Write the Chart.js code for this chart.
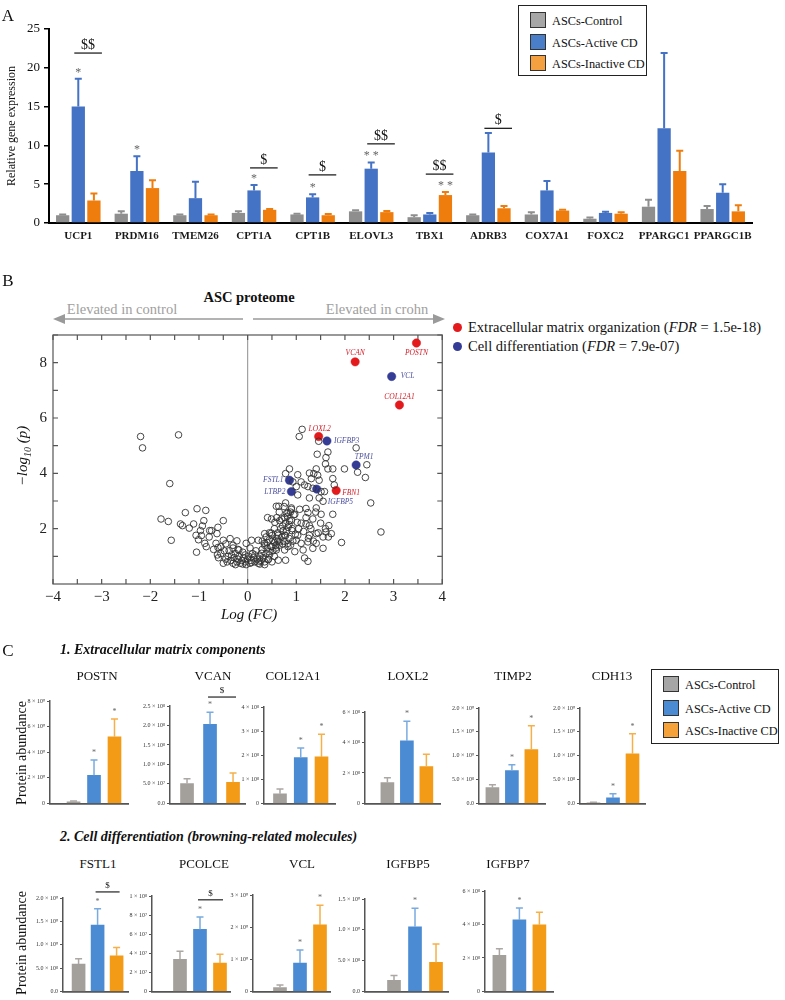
<!DOCTYPE html>
<html>
<head>
<meta charset="utf-8">
<script src="https://cdn.jsdelivr.net/npm/chart.js@4.4.1/dist/chart.umd.min.js"></script>
<style>
  body { margin: 0; background: #fff; }
  #page { position: relative; width: 785px; height: 1000px; overflow: hidden;
          font-family: 'Liberation Serif', serif; color: #111; }
  #page canvas { position: absolute; }
  .t { position: absolute; white-space: nowrap; line-height: 1; }
  .box { position: absolute; border: 1.5px solid #222; background: #fff; }
  .item { position: absolute; left: 11px; font-size: 12.3px; line-height: 15px; white-space: nowrap; }
  .sw { display: inline-block; width: 14px; height: 14px; border: 1.3px solid #333;
        vertical-align: -3px; margin-right: 6px; }
  .dot { display: inline-block; width: 9px; height: 9px; border-radius: 50%;
         vertical-align: 0px; margin-right: 6px; }
</style>
</head>
<body>
<div id="page">
  <svg style="position:absolute;left:0;top:0" width="785" height="1000">
    <g stroke="#9a9a9a" stroke-width="1.5" fill="#9a9a9a">
      <line x1="62" y1="319" x2="243" y2="319"/>
      <polygon points="53,319 65,314 65,324" stroke="none"/>
      <line x1="253" y1="319" x2="434" y2="319"/>
      <polygon points="445,319 433,314 433,324" stroke="none"/>
    </g>
  </svg>

  <div class="box" style="left:518px;top:5px;width:127px;height:69px">
    <div class="item" style="top:6px"><span class="sw" style="background:#a6a6a6"></span>ASCs-Control</div>
    <div class="item" style="top:28px"><span class="sw" style="background:#4a7ec9"></span>ASCs-Active CD</div>
    <div class="item" style="top:49px"><span class="sw" style="background:#f4a040"></span>ASCs-Inactive CD</div>
  </div>

  <div class="box" style="left:651px;top:669px;width:126px;height:73px">
    <div class="item" style="top:6px"><span class="sw" style="background:#a6a6a6"></span>ASCs-Control</div>
    <div class="item" style="top:30px"><span class="sw" style="background:#4a8bd3"></span>ASCs-Active CD</div>
    <div class="item" style="top:52px"><span class="sw" style="background:#f5a23a"></span>ASCs-Inactive CD</div>
  </div>

  <div class="t" style="left:453px;top:320px;font-size:14.5px"><span class="dot" style="background:#e3191c"></span>Extracellular matrix organization (<i>FDR</i> = 1.5e-18)</div>
  <div class="t" style="left:453px;top:339px;font-size:14.5px"><span class="dot" style="background:#343c96"></span>Cell differentiation (<i>FDR</i> = 7.9e-07)</div>
</div>

<script>
// ---------- Panel A: qPCR ----------
const genesA = ['UCP1', 'PRDM16', 'TMEM26', 'CPT1A', 'CPT1B', 'ELOVL3', 'TBX1', 'ADRB3', 'COX7A1', 'FOXC2', 'PPARGC1', 'PPARGC1B'];
const controlA = [1.0, 1.2, 1.0, 1.3, 1.1, 1.5, 0.75, 1.0, 1.1, 0.55, 2.1, 1.8];
const controlErrA = [0.1, 0.3, 0.1, 0.2, 0.1, 0.15, 0.25, 0.1, 0.3, 0.15, 0.9, 0.4];
const activeA = [15.0, 6.7, 3.2, 4.2, 3.3, 7.0, 1.1, 9.1, 4.2, 1.3, 12.2, 3.9];
const activeErrA = [3.6, 1.9, 2.1, 0.7, 0.4, 0.8, 0.2, 2.5, 1.2, 0.15, 9.7, 1.1];
const inactiveA = [2.9, 4.5, 1.0, 1.7, 1.0, 1.4, 3.6, 1.9, 1.6, 1.2, 6.7, 1.5];
const inactiveErrA = [0.9, 1.0, 0.1, 0.1, 0.15, 0.15, 0.4, 0.3, 0.1, 0.2, 2.6, 0.8];
const starsA = [[1, 0, '*'], [1, 1, '*'], [1, 3, '*'], [1, 4, '*'], [1, 5, '* *'], [2, 6, '* *']];
const dollarsA = [[0, 21.9, '$$'], [3, 7.1, '$'], [4, 6.2, '$'], [5, 10.2, '$$'], [6, 6.3, '$$'], [7, 12.2, '$']];

// ---------- Panel B: volcano ----------
const ecmGenes = ['POSTN', 'VCAN', 'COL12A1', 'LOXL2', 'FBN1'];
const ecmFC = [3.47, 2.21, 3.12, 1.46, 1.82];
const ecmP = [8.71, 8.03, 6.47, 5.33, 3.38];
const diffGenes = ['VCL', 'IGFBP3', 'TPM1', 'FSTL1', 'LTBP2', 'IGFBP5'];
const diffFC = [2.96, 1.63, 2.23, 0.86, 0.9, 1.42];
const diffP = [7.5, 5.17, 4.3, 3.75, 3.34, 3.43];
const otherProteins = [
  [-2.2,5.33],[-2.16,4.92],[-1.42,5.39],[-1.6,3.63],[-1.78,2.35],[-1.63,2.26],[-1.57,1.58],[-1.38,2.17],
  [-1.28,2.58],[-1.34,2.11],[-1.2,2.02],[-1.11,2.17],[-1.04,2.72],[-1.06,1.76],[-1.01,1.6],[-1.05,1.15],
  [-0.86,2.66],[-0.9,2.29],[-0.93,2.1],[-0.97,1.93],[-0.85,1.35],[-0.88,1.47],[-0.78,1.93],[-0.74,1.93],
  [-0.79,1.7],[-0.61,2.05],[-0.63,1.82],[-0.65,1.47],[-0.61,1.32],[-0.5,2.29],[-0.5,1.58],[-0.36,1.64],
  [-0.22,1.56],[-0.18,1.23],[-0.03,1.47],[0.08,1.58],[-0.7,1.25],[-0.55,1.35],[-0.45,1.45],[-0.3,1.4],
  [-0.95,1.75],
  [-0.5,0.75],[-0.45,0.9],[-0.4,1.0],[-0.42,0.8],[-0.35,0.85],[-0.33,1.05],[-0.3,0.75],[-0.28,0.95],
  [-0.25,1.1],[-0.22,0.8],[-0.2,0.9],[-0.18,1.0],[-0.15,0.75],[-0.12,0.85],[-0.1,1.15],[-0.08,0.95],
  [-0.05,0.8],[-0.03,0.7],[0.0,0.9],[0.02,1.0],[0.05,0.75],[0.07,0.85],[0.1,1.1],[0.12,0.95],
  [0.15,0.8],[0.17,1.2],[0.2,0.9],[0.22,0.75],[0.25,1.0],[0.28,0.85],[0.3,1.25],[0.32,0.95],
  [0.35,0.8],[0.38,1.1],[0.4,1.3],[0.43,0.9],[0.45,1.05],[0.48,1.35],[0.5,0.8],[0.52,1.2],
  [0.55,1.0],[0.58,1.4],[-0.55,1.1],[-0.48,1.2],[-0.38,1.2],[-0.3,1.3],[-0.6,0.95],[-0.62,1.05],
  [-0.2,1.25],[-0.1,0.72],[0.05,1.3],[0.15,1.05],[-0.25,0.7],[0.25,0.72],[0.35,0.7],[-0.05,1.05],[0.08,0.78],
  [1.12,5.59],[1.06,5.33],[1.46,5.16],[2.23,4.92],[1.65,4.77],[1.43,4.69],[1.61,4.57],[1.41,4.16],
  [1.6,4.34],[1.65,4.16],[1.75,4.16],[1.99,4.16],[2.45,4.31],[2.26,4.04],[2.42,3.85],[0.86,4.16],
  [0.78,3.99],[1.03,3.95],[1.27,4.01],[1.36,3.99],[1.44,3.93],[1.31,3.81],[1.1,3.69],[1.47,3.75],
  [1.75,3.81],[1.78,3.58],[0.93,3.69],[1.0,3.52],[1.17,3.58],[1.24,3.52],[1.34,3.46],[1.51,3.34],
  [1.58,3.34],[1.03,3.22],[1.27,3.11],[1.47,3.11],[1.55,2.99],[2.53,2.93],[0.78,2.93],[0.59,2.81],
  [0.64,2.81],[0.9,2.75],[1.07,2.7],[1.2,2.73],[1.41,2.75],[1.75,2.52],[1.51,2.52],[0.83,2.58],
  [0.97,2.52],[1.24,2.58],[1.34,2.35],[0.41,2.4],[0.49,2.35],[0.56,2.23],[0.66,2.29],[0.76,2.4],
  [0.86,2.29],[1.02,2.23],[1.2,2.17],[1.27,2.11],[1.67,2.11],[2.74,1.88],[0.83,2.05],[0.73,1.93],
  [0.91,1.93],[0.35,1.82],[0.49,1.84],[0.63,1.76],[0.76,1.76],[1.03,1.76],[1.27,1.76],[1.41,1.82],
  [1.61,1.88],[1.72,1.82],[1.66,1.7],[1.93,1.5],[0.22,1.58],[0.35,1.47],[0.52,1.58],[0.66,1.52],
  [0.83,1.47],[1.0,1.58],[1.1,1.47],[1.24,1.52],[1.41,1.47],[1.55,1.29],[1.34,1.29],[1.14,1.23],
  [0.97,1.17],[0.76,1.23],[0.59,1.23],[0.44,1.17],[0.29,1.11],[1.17,0.94],[1.24,0.82],[0.78,0.86],
  [0.63,0.86],[0.42,0.88],[0.25,0.82],
  [0.4,1.5],[0.45,1.6],[0.5,1.75],[0.55,1.5],[0.6,1.65],[0.62,1.85],[0.65,1.4],[0.68,2.0],
  [0.7,1.7],[0.72,2.1],[0.75,1.55],[0.78,2.2],[0.8,1.9],[0.82,2.45],[0.85,1.65],[0.88,2.6],
  [0.9,2.3],[0.92,2.0],[0.95,2.5],[0.98,1.8],[0.55,2.0],[0.58,1.3],[0.6,2.4],[0.65,2.6],
  [0.7,2.35],[0.75,2.8],[0.8,2.55],[0.85,2.15],[0.88,1.4],[0.9,2.7],[0.5,1.35],[0.45,1.85],
  [0.35,1.4],[0.3,1.55],[0.38,1.7],[0.62,1.55],[0.72,1.45],[0.78,1.75],[0.83,1.35],[0.93,1.55],
  [1.05,2.0],[1.1,2.2],[1.15,1.9],[1.2,2.4],[1.25,1.65],[1.3,2.0],[1.35,1.55],[1.4,2.6],
  [1.45,1.85],[1.5,2.2],[1.55,1.7],[1.6,2.0]
];

// ---------- Panel C: proteomics ----------
const groupsC = ['ASCs-Control', 'ASCs-Active CD', 'ASCs-Inactive CD'];
const proteinsC = ['POSTN', 'VCAN', 'COL12A1', 'LOXL2', 'TIMP2', 'CDH13', 'FSTL1', 'PCOLCE', 'VCL', 'IGFBP5', 'IGFBP7'];
const meansC = [
  [0.12, 2.2, 5.2], [0.51, 2.03, 0.54], [0.4, 1.9, 1.93], [1.37, 4.1, 2.42], [0.33, 0.69, 1.13], [0.013, 0.115, 1.04],
  [0.585, 1.42, 0.76], [3.37, 6.5, 2.96], [0.12, 0.88, 2.07], [0.18, 1.05, 0.47], [2.16, 4.27, 3.98]
];
const errsC = [
  [0.06, 1.2, 1.4], [0.12, 0.31, 0.24], [0.2, 0.4, 0.94], [0.31, 1.3, 0.8], [0.06, 0.12, 0.5], [0.01, 0.085, 0.42],
  [0.115, 0.35, 0.18], [0.83, 1.3, 0.94], [0.08, 0.41, 0.61], [0.08, 0.3, 0.3], [0.39, 0.71, 0.75]
];
const yMaxC = [8, 2.5, 4, 6, 2, 2, 2, 10, 3, 1.5, 6];
const yStepC = [2, 0.5, 1, 2, 0.5, 0.5, 0.5, 2, 1, 0.5, 2];
const yTickLabelsC = [
  ['0', '2 × 10⁹', '4 × 10⁹', '6 × 10⁹', '8 × 10⁹'],
  ['0.0', '5.0 × 10⁷', '1.0 × 10⁸', '1.5 × 10⁸', '2.0 × 10⁸', '2.5 × 10⁸'],
  ['0', '1 × 10⁸', '2 × 10⁸', '3 × 10⁸', '4 × 10⁸'],
  ['0', '2 × 10⁸', '4 × 10⁸', '6 × 10⁸'],
  ['0.0', '5.0 × 10⁸', '1.0 × 10⁹', '1.5 × 10⁹', '2.0 × 10⁹'],
  ['0.0', '5.0 × 10⁸', '1.0 × 10⁹', '1.5 × 10⁹', '2.0 × 10⁹'],
  ['0.0', '5.0 × 10⁸', '1.0 × 10⁹', '1.5 × 10⁹', '2.0 × 10⁹'],
  ['0', '2 × 10⁷', '4 × 10⁷', '6 × 10⁷', '8 × 10⁷', '1 × 10⁸'],
  ['0', '1 × 10⁹', '2 × 10⁹', '3 × 10⁹'],
  ['0.0', '5.0 × 10⁸', '1.0 × 10⁹', '1.5 × 10⁹'],
  ['0', '2 × 10⁸', '4 × 10⁸', '6 × 10⁸']
];
const starsC = [[1, 2], [1], [1, 2], [1], [1, 2], [1, 2], [1], [1], [1, 2], [1], [1]];
const dollarC = [null, 2.73, null, null, null, null, 2.13, 9.6, null, null, null];

// layout of the small charts: axis x, top y, base y, right x, x min, x max
const boxC = [
  [50, 701, 805, 128, -0.15, 3.66], [170, 706, 805, 245, 0.26, 3.52], [264, 707, 805, 335, 0.23, 3.65],
  [365, 712, 805, 440, -0.15, 3.7], [479, 708, 805, 545, 0.31, 3.7], [580, 708, 805, 645, 0.31, 3.64],
  [63, 898, 993, 128, 0.18, 3.6], [152, 896, 993, 230, -0.4, 3.5], [253, 895, 993, 330, -0.35, 3.5],
  [365, 899, 993, 448, -0.38, 3.57], [485, 891, 993, 553, 0.28, 3.68]
];
const titleXC = [97, 213, 293, 408, 513, 612, 98, 204, 302, 408, 508];

const SERIF = "'Liberation Serif', serif";
Chart.defaults.font.family = SERIF;
Chart.defaults.color = '#111';

const page = document.getElementById('page');
function addCanvas(x, y, w, h) {
  const c = document.createElement('canvas');
  c.width = w; c.height = h;
  c.style.left = x + 'px'; c.style.top = y + 'px';
  c.style.width = w + 'px'; c.style.height = h + 'px';
  page.appendChild(c);
  return c;
}
function addText(html, x, y, css, anchor) {
  const d = document.createElement('div');
  d.className = 't';
  d.innerHTML = html;
  d.style.cssText += css;
  d.style.left = x + 'px'; d.style.top = y + 'px';
  d.style.transform = anchor === 'l' ? 'translate(0,-50%)' :
    anchor === 'r' ? 'translate(-50%,-50%) rotate(-90deg)' : 'translate(-50%,-50%)';
  page.appendChild(d);
}

function meanOf(v) { return typeof v === 'object' ? v.y : v; }

// error bars (upper only) and significance marks
const barMarks = {
  id: 'barMarks',
  afterDatasetsDraw(chart, args, o) {
    const ctx = chart.ctx, ys = chart.scales.y;
    const bar = (ds, i) => chart.getDatasetMeta(ds).data[i];
    const topOf = (ds, i) => ys.getPixelForValue(meanOf(chart.data.datasets[ds].data[i]) + o.errs[ds][i]);
    ctx.save();
    o.errs.forEach((arr, ds) => {
      arr.forEach((e, i) => {
        const b = bar(ds, i);
        const yt = topOf(ds, i);
        ctx.strokeStyle = o.errColor(ds, i);
        ctx.lineWidth = o.errWidth;
        ctx.beginPath();
        ctx.moveTo(b.x, b.y); ctx.lineTo(b.x, yt);
        ctx.moveTo(b.x - o.cap, yt); ctx.lineTo(b.x + o.cap, yt);
        ctx.stroke();
      });
    });
    ctx.textAlign = 'center';
    ctx.textBaseline = 'alphabetic';
    ctx.fillStyle = o.starColor;
    ctx.font = o.starFont;
    (o.stars || []).forEach(([ds, i, txt]) => {
      ctx.fillText(txt, bar(ds, i).x, topOf(ds, i) - o.starGap);
    });
    ctx.strokeStyle = '#222';
    ctx.fillStyle = '#111';
    ctx.lineWidth = o.sigWidth;
    ctx.font = o.sigFont;
    (o.sig || []).forEach(([ds1, i1, ds2, i2, val, txt]) => {
      const x1 = bar(ds1, i1).x - o.sigL, x2 = bar(ds2, i2).x + o.sigR;
      const py = ys.getPixelForValue(val);
      ctx.beginPath(); ctx.moveTo(x1, py); ctx.lineTo(x2, py); ctx.stroke();
      ctx.fillText(txt, (x1 + x2) / 2, py - o.sigGap);
    });
    ctx.restore();
  }
};

// ---------- Panel A chart ----------
const colA = ['#8e8e8e', '#4472c4', '#ef7d0d'];
new Chart(addCanvas(0, 0, 770, 250), {
  type: 'bar',
  data: {
    labels: genesA,
    datasets: [
      { label: 'ASCs-Control', data: controlA, backgroundColor: colA[0] },
      { label: 'ASCs-Active CD', data: activeA, backgroundColor: colA[1] },
      { label: 'ASCs-Inactive CD', data: inactiveA, backgroundColor: colA[2] }
    ]
  },
  options: {
    responsive: false, animation: false,
    categoryPercentage: 0.8, barPercentage: 0.85,
    layout: { padding: { top: 29, right: 18, left: 0, bottom: 0 } },
    plugins: {
      legend: { display: false }, tooltip: { enabled: false },
      barMarks: {
        errs: [controlErrA, activeErrA, inactiveErrA],
        errColor: (ds) => colA[ds], errWidth: 2, cap: 3.5,
        stars: starsA, starColor: '#666', starFont: '12px ' + SERIF, starGap: 3,
        sig: dollarsA.map(([i, v, t]) => [1, i, 2, i, v, t]),
        sigL: 4, sigR: 8, sigGap: 4, sigWidth: 1.3, sigFont: '14px ' + SERIF
      }
    },
    scales: {
      x: {
        grid: { display: false, drawTicks: false },
        border: { color: '#000', width: 2 },
        ticks: { font: { size: 11, weight: 'bold' }, color: '#1a1a1a', padding: 7, maxRotation: 0, autoSkip: false },
        afterFit: (s) => { s.height = 27; }
      },
      y: {
        min: 0, max: 25,
        ticks: { stepSize: 5, font: { size: 13 }, color: '#111', padding: 4 },
        grid: { drawOnChartArea: false, tickLength: 5, color: '#000', lineWidth: 1.5 },
        border: { color: '#000', width: 2 },
        afterFit: (s) => { s.width = 49; }
      }
    }
  },
  plugins: [barMarks]
});

// ---------- Panel B chart ----------
const ecmLabelPos = [[0, 10, 'center'], [0, -9, 'center'], [0, -8, 'center'], [1, -8, 'center'], [6, 3, 'left']];
const diffLabelPos = [[9, 0, 'left'], [7, 0, 'left'], [8, -8, 'center'], [-6, 0, 'right'], [-6, 0, 'right'], [11, 13, 'left']];

const volcanoDeco = {
  id: 'volcanoDeco',
  beforeDatasetsDraw(chart) {
    const { ctx, chartArea: a, scales: { x, y } } = chart;
    ctx.save();
    const x0 = x.getPixelForValue(0);
    ctx.strokeStyle = '#a0a0a0'; ctx.lineWidth = 1.2;
    ctx.beginPath(); ctx.moveTo(x0, a.top); ctx.lineTo(x0, a.bottom); ctx.stroke();
    ctx.strokeStyle = '#555'; ctx.lineWidth = 1.2;
    ctx.strokeRect(a.left, a.top, a.right - a.left, a.bottom - a.top);
    ctx.beginPath();
    for (let v = -4; v <= 4; v += 0.5) {
      const px = x.getPixelForValue(v);
      ctx.moveTo(px, a.top); ctx.lineTo(px, a.top + 5);
      ctx.moveTo(px, a.bottom); ctx.lineTo(px, a.bottom - 5);
    }
    for (let v = 1; v <= 9; v++) {
      const py = y.getPixelForValue(v);
      ctx.moveTo(a.left, py); ctx.lineTo(a.left + 5, py);
      ctx.moveTo(a.right, py); ctx.lineTo(a.right - 5, py);
    }
    ctx.stroke();
    ctx.restore();
  },
  afterDatasetsDraw(chart) {
    const ctx = chart.ctx;
    ctx.save();
    ctx.font = 'italic 7.5px ' + SERIF;
    ctx.textBaseline = 'middle';
    const draw = (ds, names, pos, color) => {
      chart.getDatasetMeta(ds).data.forEach((pt, i) => {
        const [dx, dy, al] = pos[i];
        ctx.fillStyle = color;
        ctx.textAlign = al;
        ctx.fillText(names[i], pt.x + dx, pt.y + dy);
      });
    };
    draw(1, ecmGenes, ecmLabelPos, '#d0202a');
    draw(2, diffGenes, diffLabelPos, '#4a4f9e');
    ctx.restore();
  }
};

new Chart(addCanvas(0, 320, 450, 285), {
  type: 'scatter',
  data: {
    datasets: [
      { label: 'Other proteins', data: otherProteins.map(([x, y]) => ({ x, y })),
        pointRadius: 3.3, borderColor: '#333', borderWidth: 0.9, backgroundColor: 'rgba(0,0,0,0)' },
      { label: 'Extracellular matrix organization', data: ecmFC.map((x, i) => ({ x, y: ecmP[i] })),
        pointRadius: 4.2, borderColor: '#e3191c', borderWidth: 0.5, backgroundColor: '#e3191c' },
      { label: 'Cell differentiation', data: diffFC.map((x, i) => ({ x, y: diffP[i] })),
        pointRadius: 4.2, borderColor: '#343c96', borderWidth: 0.5, backgroundColor: '#343c96' }
    ]
  },
  options: {
    responsive: false, animation: false,
    layout: { padding: { top: 9, right: 5, left: 0, bottom: 0 } },
    plugins: { legend: { display: false }, tooltip: { enabled: false } },
    scales: {
      x: {
        type: 'linear', min: -4, max: 4,
        grid: { display: false, drawTicks: false }, border: { display: false },
        ticks: { stepSize: 1, font: { size: 15 }, color: '#222', padding: 4,
                 callback: (v) => String(v).replace('-', '\u2212') },
        afterFit: (s) => { s.height = 21; }
      },
      y: {
        min: 0, max: 9,
        grid: { display: false, drawTicks: false }, border: { display: false },
        ticks: { stepSize: 2, font: { size: 15 }, color: '#222', padding: 6,
                 callback: (v) => (v > 0 && v % 2 === 0 ? v : '') },
        afterFit: (s) => { s.width = 53; }
      }
    }
  },
  plugins: [volcanoDeco]
});

// ---------- Panel C charts ----------
const colC = ['#a39f9b', '#4a8bd3', '#f39a16'];
const errColC = ['#aaa7a4', '#79aae0', '#f5b04a'];
proteinsC.forEach((name, k) => {
  const [ax, ty, by, rx, xmin, xmax] = boxC[k];
  const yw = 44, padTop = 22;
  const sig = dollarC[k] === null ? [] : [[0, 1, 0, 2, dollarC[k], '$']];
  new Chart(addCanvas(ax - yw, ty - padTop, rx - ax + yw + 4, by - ty + padTop + 4), {
    type: 'bar',
    data: {
      datasets: [{ label: name, data: meansC[k].map((v, j) => ({ x: j + 1, y: v })),
                   backgroundColor: colC, barThickness: 13 }]
    },
    options: {
      responsive: false, animation: false,
      layout: { padding: { top: padTop, right: 4, left: 0, bottom: 4 } },
      plugins: {
        legend: { display: false }, tooltip: { enabled: false },
        barMarks: {
          errs: [errsC[k]], errColor: (ds, i) => errColC[i], errWidth: 1.5, cap: 3.5,
          stars: starsC[k].map((i) => [0, i, '*']), starColor: '#666', starFont: '8px ' + SERIF, starGap: 5,
          sig: sig, sigL: 2, sigR: 3, sigGap: 4, sigWidth: 1.2, sigFont: '9px ' + SERIF
        }
      },
      scales: {
        x: {
          type: 'linear', min: xmin, max: xmax, offset: false,
          grid: { display: false, drawTicks: false }, ticks: { display: false },
          border: { color: '#555', width: 1.8 },
          afterFit: (s) => { s.height = 0; }
        },
        y: {
          min: 0, max: yMaxC[k],
          ticks: { stepSize: yStepC[k], font: { size: 6 }, color: '#333', padding: 2,
                   callback: (v) => yTickLabelsC[k][Math.round(v / yStepC[k])] },
          grid: { drawOnChartArea: false, tickLength: 3, color: '#555', lineWidth: 1 },
          border: { color: '#555', width: 1.5 },
          afterFit: (s) => { s.width = yw; }
        }
      }
    },
    plugins: [barMarks]
  });
  addText(name, titleXC[k], k < 6 ? 675 : 863, 'font-size:13px;color:#111', 'c');
});

// ---------- text labels ----------
addText('A', 8, 15, 'font-size:17px', 'c');
addText('Relative gene expression', 11, 126, 'font-size:12px', 'r');
addText('B', 8, 280, 'font-size:17px', 'c');
addText('ASC proteome', 249, 297, 'font-size:14.5px;font-weight:bold', 'c');
addText('Elevated in control', 122, 309, 'font-size:14.5px;color:#a0a0a0', 'c');
addText('Elevated in crohn', 377, 309, 'font-size:14.5px;color:#a0a0a0', 'c');
addText('<i>\u2212log<sub style="font-size:10px">10</sub> (p)</i>', 24, 456, 'font-size:15px', 'r');
addText('<i>Log (FC)</i>', 249, 614, 'font-size:15px', 'c');
addText('C', 8, 650, 'font-size:17px', 'c');
addText('<b><i>1. Extracellular matrix components</i></b>', 60, 650, 'font-size:14px', 'l');
addText('<b><i>2. Cell differentiation (browning-related molecules)</i></b>', 60, 837, 'font-size:14px', 'l');
addText('Protein abundance', 22, 753, 'font-size:14px', 'r');
addText('Protein abundance', 22, 943, 'font-size:14px', 'r');
</script>
</body>
</html>
